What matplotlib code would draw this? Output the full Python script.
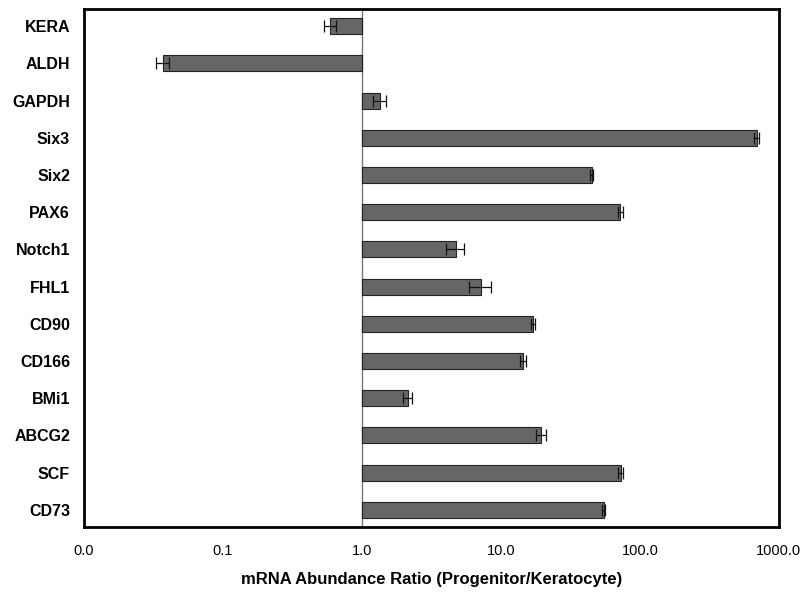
import numpy as np
import matplotlib
matplotlib.use("Agg")
import matplotlib.pyplot as plt

plt.rcParams["font.family"] = ["Liberation Sans", "DejaVu Sans"]

# datos (ratio progenitor/queratocito)
genes = ["KERA", "ALDH", "GAPDH", "Six3", "Six2", "PAX6", "Notch1", "FHL1",
         "CD90", "CD166", "BMi1", "ABCG2", "SCF", "CD73"]
ratio = [0.59, 0.037, 1.35, 690, 45, 72, 4.75, 7.2, 17, 14.4, 2.14, 19.4, 73, 55]
err = [0.06, 0.004, 0.15, 30, 1.0, 3.0, 0.7, 1.3, 0.6, 0.7, 0.16, 1.6, 3.0, 1.5]

ticks = [0.01, 0.1, 1, 10, 100, 1000]
tick_labels = ["0.0", "0.1", "1.0", "10.0", "100.0", "1000.0"]

fig = plt.figure(figsize=(8.03, 5.93), dpi=100)
ax = fig.add_axes([0.1046, 0.1113, 0.8654, 0.8735])

y = np.arange(len(genes))
base = 1.0
widths = [r - base for r in ratio]
ax.barh(y, widths, left=base, height=0.43, color="#666666",
        edgecolor="#222222", linewidth=0.8, zorder=2)
ax.errorbar(ratio, y, xerr=err, fmt="none", ecolor="#111111",
            elinewidth=0.9, capsize=4, capthick=0.9, zorder=3)

ax.axvline(base, color="#777777", linewidth=1.0, zorder=1)

ax.set_xscale("log")
ax.set_xlim(0.01, 1000)
ax.set_ylim(len(genes) - 0.54, -0.46)
ax.set_xticks(ticks)
ax.set_xticklabels(tick_labels, fontsize=10.5)
ax.minorticks_off()
ax.tick_params(axis="x", length=0, pad=12)
ax.set_yticks(y)
ax.set_yticklabels(genes, fontsize=11.5, fontweight="bold")
ax.tick_params(axis="y", length=0, pad=10)

for s in ax.spines.values():
    s.set_linewidth(2.0)
    s.set_color("black")

ax.set_xlabel("mRNA Abundance Ratio (Progenitor/Keratocyte)",
              fontsize=12, fontweight="bold", labelpad=10)

fig.savefig("out.png", dpi=100)
